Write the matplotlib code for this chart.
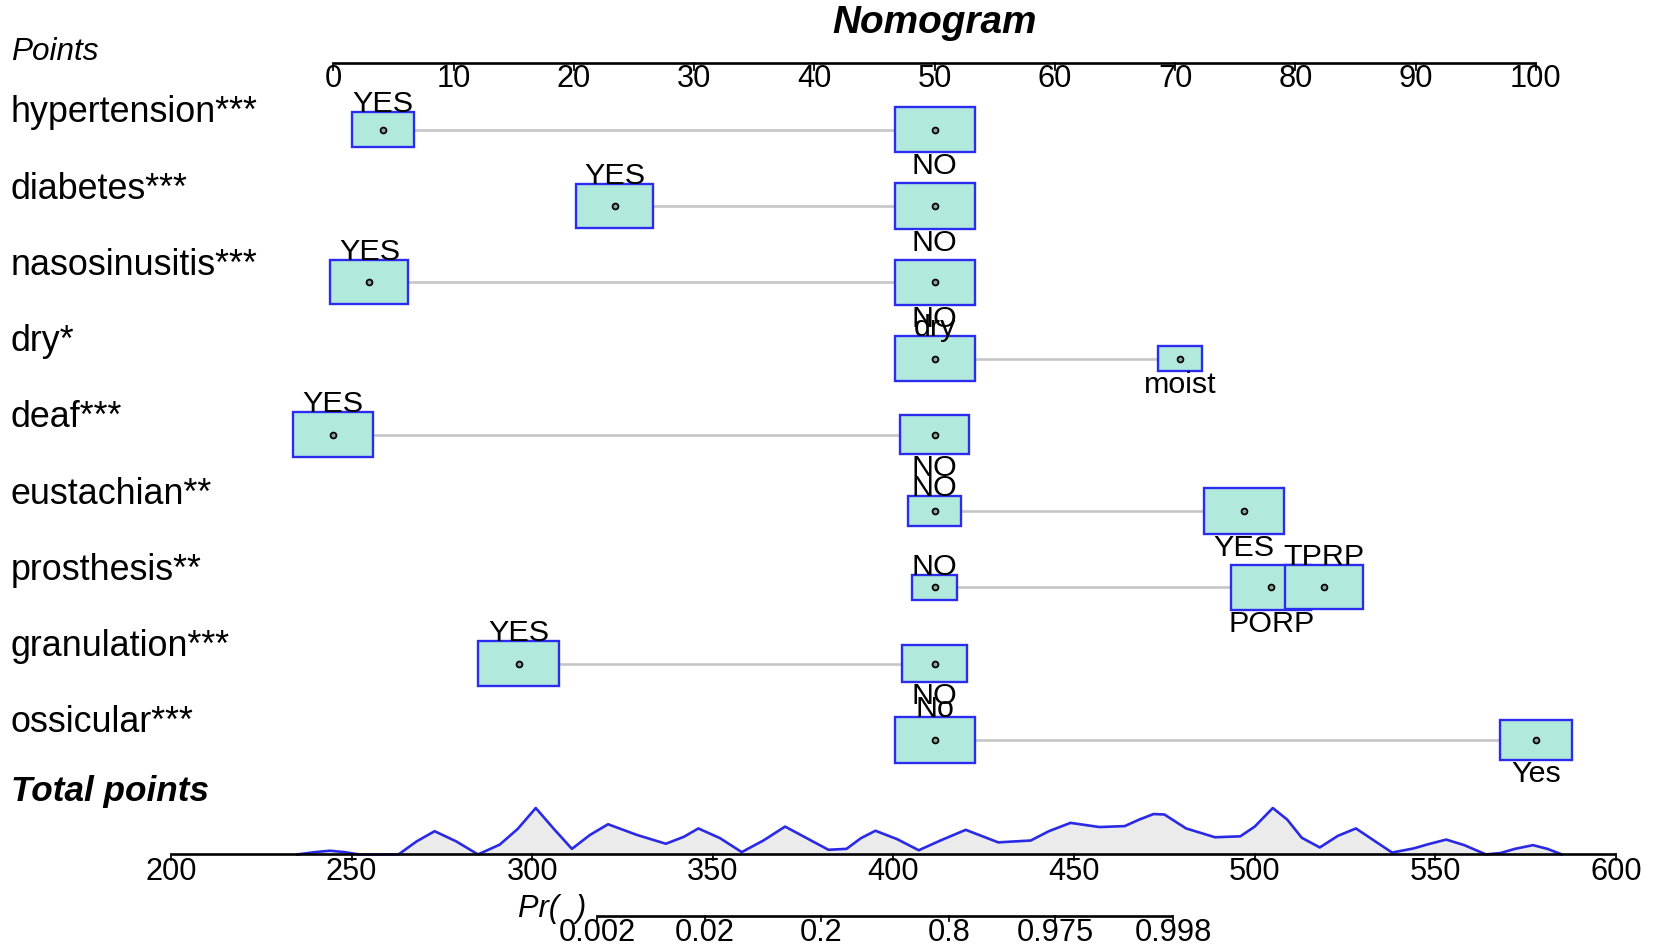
import numpy as np
import matplotlib.pyplot as plt
import matplotlib.transforms as mtransforms
from matplotlib.patches import Rectangle

plt.rcParams['font.family'] = ['Liberation Sans', 'DejaVu Sans']

# predictors, their levels, points per level and relative level frequency
variables = ['hypertension***', 'diabetes***', 'nasosinusitis***', 'dry*', 'deaf***',
             'eustachian**', 'prosthesis**', 'granulation***', 'ossicular***']
levels = [['YES', 'NO'], ['YES', 'NO'], ['YES', 'NO'], ['dry', 'moist'], ['YES', 'NO'],
          ['NO', 'YES'], ['NO', 'PORP', 'TPRP'], ['YES', 'NO'], ['No', 'Yes']]
level_points = [[4.1, 50], [23.4, 50], [3.0, 50], [50, 70.4], [0, 50],
                [50, 75.7], [50, 78.0, 82.4], [15.4, 50], [50, 100]]
level_freq = [[0.60, 1.0], [0.92, 1.0], [0.95, 1.0], [1.0, 0.31], [1.0, 0.75],
              [0.43, 1.0], [0.31, 1.0, 0.95], [1.0, 0.67], [1.0, 0.80]]

points_ticks = list(range(0, 101, 10))
total_ticks = list(range(200, 601, 50))
pr_ticks = [0.002, 0.02, 0.2, 0.8, 0.975, 0.998]
pr_labels = ['0.002', '0.02', '0.2', '0.8', '0.975', '0.998']
pr_center = 397.7   # total points at Pr = 0.5
pr_slope = 12.83    # total points per logit unit

# distribution of total points (relative density)
density_x = [235, 240, 244, 248, 252, 263, 268, 273, 279, 285, 291, 296, 301, 306,
             311, 316, 321, 329, 337, 342, 346, 352, 358, 364, 370, 376, 382, 387,
             391, 395, 401, 407, 413, 420, 425, 429, 438, 443, 449, 457, 464, 468,
             472, 475, 481, 489, 496, 500, 505, 509, 513, 518, 523, 528, 533, 538,
             544, 548, 553, 558, 564, 568, 572, 577, 581, 585]
density_y = [0.0, 0.05, 0.08, 0.05, 0.0, 0.0, 0.28, 0.50, 0.28, 0.0, 0.21, 0.55, 1.0, 0.55,
             0.12, 0.42, 0.65, 0.42, 0.23, 0.38, 0.56, 0.35, 0.05, 0.30, 0.60, 0.35, 0.10, 0.12,
             0.35, 0.51, 0.33, 0.09, 0.30, 0.53, 0.38, 0.26, 0.30, 0.50, 0.68, 0.59, 0.61, 0.75,
             0.87, 0.86, 0.56, 0.37, 0.39, 0.60, 1.0, 0.75, 0.36, 0.15, 0.40, 0.56, 0.30, 0.04,
             0.13, 0.22, 0.32, 0.20, 0.0, 0.03, 0.12, 0.20, 0.12, 0.0]

# layout measured on a 1568-wide view; saved at a higher dpi to give 1654 px
W, H = 1568, 950 * 1568 / 1654
ROW0, ROW_PX = 123, 72.3      # pixel row of first predictor, row spacing
PT_PX = 11.4                  # pixels per point
TP_PX = 3.425                 # pixels per total point


def row(py):
    return (py - ROW0) / ROW_PX


box_fc = '#b2e9dd'
box_ec = '#2b2bf2'
line_gray = '#c6c6c6'

fig = plt.figure(figsize=(W / 100, H / 100), dpi=100)
ax = fig.add_axes([0, 0, 1, 1])
ax.set_xlim(-316 / PT_PX, (W - 316) / PT_PX)
ax.set_ylim(row(H), row(0))
ax.axis('off')
left = mtransforms.blended_transform_factory(ax.transAxes, ax.transData)

ax.text(50, row(22), 'Nomogram', fontsize=26.5, fontweight='bold', style='italic',
        ha='center', va='center')
ax.text(10 / W, row(49), 'Points', fontsize=21.5, style='italic', va='center', transform=left)

# points scale
yp = row(60)
ax.plot([0, 100], [yp, yp], color='black', lw=1.8, solid_capstyle='butt')
for t in points_ticks:
    ax.plot([t, t], [yp, yp + 6 / ROW_PX], color='black', lw=1.2)
    ax.text(t, yp + 1 / ROW_PX, str(t), fontsize=21, ha='center', va='top')

max_w = 76 / PT_PX
max_h = 43 / ROW_PX
for i, name in enumerate(variables):
    ax.text(10 / W, i - 16 / ROW_PX, name, fontsize=24.5, va='center', transform=left)
    xs = level_points[i]
    ax.plot([min(xs), max(xs)], [i, i], color=line_gray, lw=1.8, zorder=1)
    for j, (lab, x, f) in enumerate(zip(levels[i], xs, level_freq[i])):
        s = np.sqrt(f)
        w, h = max_w * s, max_h * s
        ax.add_patch(Rectangle((x - w / 2, i - h / 2), w, h, facecolor=box_fc,
                               edgecolor=box_ec, lw=1.6, zorder=2 + j))
        ax.plot(x, i, 'o', ms=4, mfc='#8aa9a2', mec='black', mew=1.2, zorder=2.5 + j)
        if j % 2 == 0:
            ax.text(x, i - h / 2, lab, fontsize=20.8, ha='center', va='baseline', zorder=10)
        else:
            ax.text(x, i + h / 2, lab, fontsize=20.8, ha='center', va='top', zorder=10)

ax.text(10 / W, row(750), 'Total points', fontsize=24, fontweight='bold', style='italic',
        va='center', transform=left)

# total points axis with density, and probability axis
ax2 = fig.add_axes([0, 0, 1, 1])
ax2.set_xlim(200 - 162 / TP_PX, 600 + (W - 1532) / TP_PX)
ax2.set_ylim(row(H), row(0))
ax2.axis('off')
ax2.patch.set_alpha(0)

yb = row(810)
dens_scale = 44 / ROW_PX
dy = yb - np.array(density_y) * dens_scale
ax2.fill_between(density_x, yb, dy, color='#ebebeb', lw=0)
ax2.plot(density_x, dy, color='#2a2ae6', lw=1.8)
ax2.plot([200, 600], [yb, yb], color='black', lw=1.8, solid_capstyle='butt')
for t in total_ticks:
    ax2.plot([t, t], [yb, yb + 5 / ROW_PX], color='black', lw=1.2)
    ax2.text(t, yb + 2 / ROW_PX, str(t), fontsize=21, ha='center', va='top')

ypr = row(868)
pr_pos = [pr_center + pr_slope * np.log(p / (1 - p)) for p in pr_ticks]
ax2.plot([pr_pos[0], pr_pos[-1]], [ypr, ypr], color='black', lw=1.8, solid_capstyle='butt')
for pos, lab in zip(pr_pos, pr_labels):
    ax2.plot([pos, pos], [ypr, ypr + 5 / ROW_PX], color='black', lw=1.2)
    ax2.text(pos, ypr + 2 / ROW_PX, lab, fontsize=21, ha='center', va='top')
ax2.text(pr_pos[0] - 10 / TP_PX, row(862), 'Pr(  )', fontsize=21, style='italic',
         ha='right', va='center')

fig.savefig('out.png', dpi=100 * 1654 / W)
